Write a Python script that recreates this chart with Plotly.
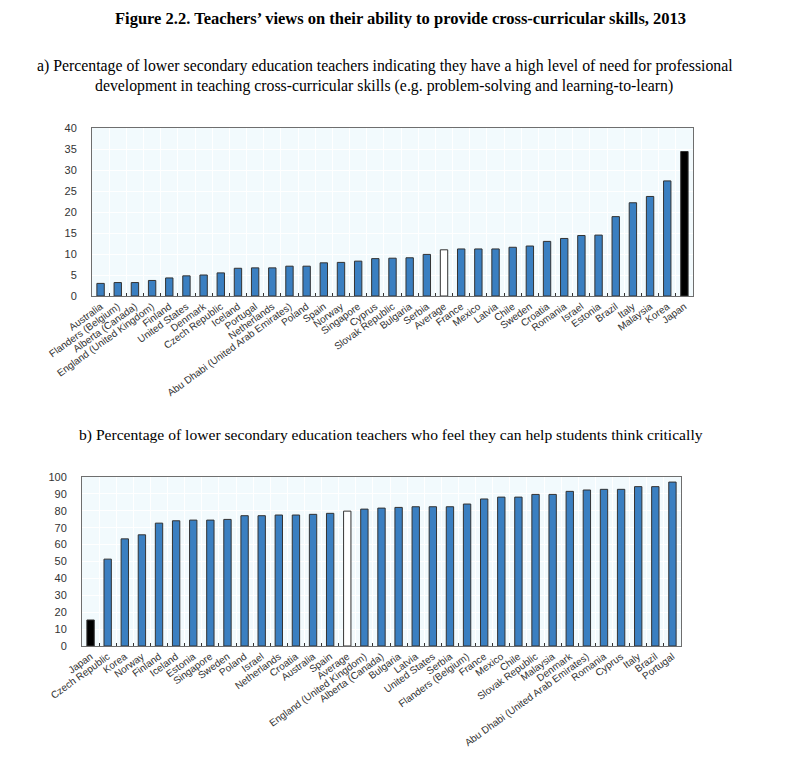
import plotly.graph_objects as go

# Panel a) data
cats_a = ["Australia", "Flanders (Belgium)", "Alberta (Canada)", "England (United Kingdom)",
          "Finland", "United States", "Denmark", "Czech Republic", "Iceland", "Portugal",
          "Netherlands", "Abu Dhabi (United Arab Emirates)", "Poland", "Spain", "Norway",
          "Singapore", "Cyprus", "Slovak Republic", "Bulgaria", "Serbia", "Average", "France",
          "Mexico", "Latvia", "Chile", "Sweden", "Croatia", "Romania", "Israel", "Estonia",
          "Brazil", "Italy", "Malaysia", "Korea", "Japan"]
vals_a = [3.0, 3.2, 3.2, 3.7, 4.3, 4.8, 5.0, 5.5, 6.6, 6.7,
          6.7, 7.1, 7.1, 7.9, 8.0, 8.3, 8.9, 9.0, 9.1, 9.9,
          11.0, 11.2, 11.2, 11.2, 11.6, 11.9, 13.0, 13.7, 14.4, 14.5,
          18.9, 22.2, 23.7, 27.4, 34.4]

# Panel b) data
cats_b = ["Japan", "Czech Republic", "Korea", "Norway", "Finland", "Iceland", "Estonia",
          "Singapore", "Sweden", "Poland", "Israel", "Netherlands", "Croatia", "Australia",
          "Spain", "Average", "England (United Kingdom)", "Alberta (Canada)", "Bulgaria",
          "Latvia", "United States", "Serbia", "Flanders (Belgium)", "France", "Mexico",
          "Chile", "Slovak Republic", "Malaysia", "Denmark", "Abu Dhabi (United Arab Emirates)",
          "Romania", "Cyprus", "Italy", "Brazil", "Portugal"]
vals_b = [15.4, 51.4, 63.4, 65.8, 72.7, 74.1, 74.5, 74.5, 74.9, 77.1,
          77.1, 77.5, 77.5, 77.9, 78.5, 79.8, 81.0, 81.6, 82.0, 82.4,
          82.4, 82.4, 84.0, 87.0, 88.1, 88.1, 89.7, 89.7, 91.5, 92.3,
          92.7, 92.7, 94.3, 94.3, 97.0]

BLUE = "#3a7fc1"


def colors(cats):
    out = []
    for c in cats:
        if c == "Average":
            out.append("white")
        elif c == "Japan":
            out.append("black")
        else:
            out.append(BLUE)
    return out


fig = go.Figure()
fig.add_trace(go.Bar(x=cats_a, y=vals_a, xaxis="x", yaxis="y",
                     marker=dict(color=colors(cats_a), line=dict(color="#333333", width=1)),
                     width=0.43, showlegend=False))
fig.add_trace(go.Bar(x=cats_b, y=vals_b, xaxis="x2", yaxis="y2",
                     marker=dict(color=colors(cats_b), line=dict(color="#333333", width=1)),
                     width=0.43, showlegend=False))

W, H = 800, 765
xtick_font = dict(family="Liberation Sans, Arial, sans-serif", size=10, color="#333333")
ytick_font = dict(family="Liberation Sans, Arial, sans-serif", size=11, color="#333333")

xcommon = dict(type="category", tickangle=-36, tickfont=xtick_font, showgrid=True,
               gridcolor="white", gridwidth=1, showline=True, mirror=True,
               linecolor="#6e6e6e", linewidth=1, ticks="inside", tickson="boundaries",
               ticklen=3, tickcolor="#333333", zeroline=False, automargin=False)
ycommon = dict(tickfont=ytick_font, showgrid=True, gridcolor="white", gridwidth=1,
               showline=True, mirror=True, linecolor="#6e6e6e", linewidth=1,
               ticks="", zeroline=False, ticklabelstandoff=12, automargin=False)

fig.update_layout(
    width=W, height=H,
    margin=dict(l=0, r=0, t=0, b=0, autoexpand=False),
    paper_bgcolor="white",
    plot_bgcolor="#f2fafd",
    bargap=0.57,
    xaxis=dict(domain=[92 / W, 693 / W], anchor="y", **xcommon),
    yaxis=dict(domain=[1 - 296 / H, 1 - 128 / H], anchor="x", range=[0, 40], dtick=5, **ycommon),
    xaxis2=dict(domain=[82 / W, 681 / W], anchor="y2", **xcommon),
    yaxis2=dict(domain=[1 - 646 / H, 1 - 477 / H], anchor="x2", range=[0, 100], dtick=10, **ycommon),
)

serif = "Liberation Serif, Times New Roman, serif"
annots = [
    dict(text="<b>Figure 2.2. Teachers’ views on their ability to provide cross-curricular skills, 2013</b>",
         x=400, y=18, size=16.5),
    dict(text="a) Percentage of lower secondary education teachers indicating they have a high level of need for professional",
         x=385, y=66, size=15.8),
    dict(text="development in teaching cross-curricular skills (e.g. problem-solving and learning-to-learn)",
         x=384, y=86, size=15.8),
    dict(text="b) Percentage of lower secondary education teachers who feel they can help students think critically",
         x=391, y=435, size=15.6),
]
for a in annots:
    fig.add_annotation(text=a["text"], xref="paper", yref="paper", x=a["x"] / W, y=1 - a["y"] / H,
                       xanchor="center", yanchor="middle", showarrow=False,
                       font=dict(family=serif, size=a["size"], color="black"))

fig.write_html("out.html", config={"displayModeBar": False},
               post_script="document.body.style.margin='0';")
